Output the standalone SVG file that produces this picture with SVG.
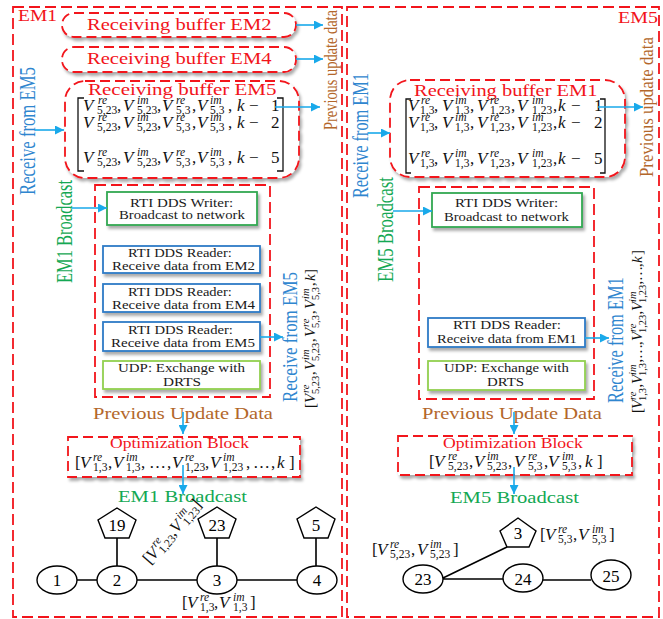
<svg xmlns="http://www.w3.org/2000/svg" width="663" height="619" viewBox="0 0 663 619">
<defs>
<style>
.t{font-family:"Liberation Serif","Times New Roman",serif}
.red{fill:#f2141b}
.brn{fill:#b3672b}
.blu{fill:#2f86cf}
.grn{fill:#14a853}
.bx{font-size:13px;fill:#1a1a1a}
.h{font-size:16.5px}
.ob{font-size:14.5px}
.frame{fill:none;stroke:#f2141b;stroke-width:1.8;stroke-dasharray:11 5}
.buf{fill:#fff;stroke:#f2141b;stroke-width:1.8;stroke-dasharray:10 5}
.wr{fill:#fff;stroke:#32a852;stroke-width:1.8}
.rd{fill:#fff;stroke:#2e7bc6;stroke-width:1.8}
.udp{fill:#fff;stroke:#92d050;stroke-width:1.8}
.arr{stroke:#19a9ea;stroke-width:1.6;fill:none;marker-end:url(#ah)}
.edge{stroke:#000;stroke-width:1.6;fill:none}
.node{fill:#fff;stroke:#000;stroke-width:1.4}
.num{font-family:"Liberation Serif","Times New Roman",serif;font-size:17px;fill:#000;text-anchor:middle}
.mt{font-family:"Liberation Serif","Times New Roman",serif;font-style:italic;font-size:17px;fill:#111}
.mt .sp{font-size:11.5px}
.mt .sb{font-size:11.5px;font-style:normal}
.mt .pc{font-style:normal}
.mv{font-size:15px}
.mv .sp,.mv .sb{font-size:10.5px}
.brk{fill:none;stroke:#111;stroke-width:1.3}
</style>
<filter id="sh" x="-5%" y="-10%" width="115%" height="140%">
<feDropShadow dx="2" dy="3" stdDeviation="1.6" flood-color="#000" flood-opacity="0.33"/>
</filter>
<marker id="ah" viewBox="0 0 10 10" refX="10" refY="5" markerWidth="10" markerHeight="9" markerUnits="userSpaceOnUse" orient="auto">
<path d="M0,0 L10,5 L0,10 z" fill="#19a9ea"/>
</marker>
</defs>

<!-- Left machine: EM1 -->
<g id="em1">
<rect class="frame" x="13" y="7" width="329" height="610"/>
<text class="t red h" transform="translate(18,21) scale(1.18,1)">EM1</text>
<text class="t blu" transform="translate(35,195) rotate(-90) scale(0.742,1)" font-size="22.5">Receive from EM5</text>
<text class="t brn" transform="translate(337,130) rotate(-90) scale(0.735,1)" font-size="19.6">Previous update data</text>
<text class="t grn" transform="translate(72,283) rotate(-90) scale(0.733,1)" font-size="22.5">EM1 Broadcast</text>
<text class="t blu" transform="translate(297,402) rotate(-90) scale(0.808,1)" font-size="21">Receive from EM5</text>
<text class="mt mv" transform="translate(315,408) rotate(-90)"><tspan class="pc" x="0" y="0">[</tspan><tspan x="5" y="0">V</tspan><tspan class="sp" x="15" y="-6.5">re</tspan><tspan class="sb" x="14" y="3.5">5,23</tspan><tspan class="pc" x="33" y="0">,</tspan><tspan x="38" y="0">V</tspan><tspan class="sp" x="48" y="-6.5">im</tspan><tspan class="sb" x="47" y="3.5">5,23</tspan><tspan class="pc" x="66" y="0">,</tspan><tspan x="71" y="0">V</tspan><tspan class="sp" x="81" y="-6.5">re</tspan><tspan class="sb" x="80" y="3.5">5,3</tspan><tspan class="pc" x="94" y="0">,</tspan><tspan x="99" y="0">V</tspan><tspan class="sp" x="109" y="-6.5">im</tspan><tspan class="sb" x="108" y="3.5">5,3</tspan><tspan class="pc" x="122" y="0">,</tspan><tspan x="127" y="0">k</tspan><tspan class="pc" x="134" y="0">]</tspan></text>
</g>

<g id="buf-em2">
<rect class="buf" x="62" y="13" width="234" height="24" rx="12" filter="url(#sh)"/>
<text class="t red h" transform="translate(87,30) scale(1.246,1)">Receiving buffer EM2</text>
</g>
<g id="buf-em4">
<rect class="buf" x="62" y="47" width="234" height="25" rx="12" filter="url(#sh)"/>
<text class="t red h" transform="translate(87,64) scale(1.246,1)">Receiving buffer EM4</text>
</g>
<g id="buf-em5">
<rect class="buf" x="65" y="81" width="234" height="97" rx="20" filter="url(#sh)"/>
<text class="t red h" transform="translate(88,95) scale(1.273,1)">Receiving buffer EM5</text>
<path class="brk" d="M84,98 H78 V171 H84 M277,98 H283 V171 H277"/>
<text class="mt"><tspan x="83" y="111">V</tspan><tspan class="sp" x="98" y="104">re</tspan><tspan class="sb" x="97" y="114">5,23</tspan><tspan class="pc" x="117" y="111">,</tspan><tspan x="123" y="111">V</tspan><tspan class="sp" x="137" y="104">im</tspan><tspan class="sb" x="137" y="114">5,23</tspan><tspan class="pc" x="157" y="111">,</tspan><tspan x="162" y="111">V</tspan><tspan class="sp" x="176" y="104">re</tspan><tspan class="sb" x="176" y="114">5,3</tspan><tspan class="pc" x="192" y="111">,</tspan><tspan x="197" y="111">V</tspan><tspan class="sp" x="210" y="104">im</tspan><tspan class="sb" x="210" y="114">5,3</tspan><tspan class="pc" x="228" y="111">,</tspan><tspan x="237" y="111">k</tspan><tspan class="pc" x="249" y="111">−</tspan><tspan class="pc" x="271" y="111">1</tspan></text>
<text class="mt"><tspan x="83" y="128">V</tspan><tspan class="sp" x="98" y="121">re</tspan><tspan class="sb" x="97" y="131">5,23</tspan><tspan class="pc" x="117" y="128">,</tspan><tspan x="123" y="128">V</tspan><tspan class="sp" x="137" y="121">im</tspan><tspan class="sb" x="137" y="131">5,23</tspan><tspan class="pc" x="157" y="128">,</tspan><tspan x="162" y="128">V</tspan><tspan class="sp" x="176" y="121">re</tspan><tspan class="sb" x="176" y="131">5,3</tspan><tspan class="pc" x="192" y="128">,</tspan><tspan x="197" y="128">V</tspan><tspan class="sp" x="210" y="121">im</tspan><tspan class="sb" x="210" y="131">5,3</tspan><tspan class="pc" x="228" y="128">,</tspan><tspan x="237" y="128">k</tspan><tspan class="pc" x="249" y="128">−</tspan><tspan class="pc" x="271" y="128">2</tspan></text>
<text class="mt"><tspan x="83" y="163">V</tspan><tspan class="sp" x="98" y="156">re</tspan><tspan class="sb" x="97" y="166">5,23</tspan><tspan class="pc" x="117" y="163">,</tspan><tspan x="123" y="163">V</tspan><tspan class="sp" x="137" y="156">im</tspan><tspan class="sb" x="137" y="166">5,23</tspan><tspan class="pc" x="157" y="163">,</tspan><tspan x="162" y="163">V</tspan><tspan class="sp" x="176" y="156">re</tspan><tspan class="sb" x="176" y="166">5,3</tspan><tspan class="pc" x="192" y="163">,</tspan><tspan x="197" y="163">V</tspan><tspan class="sp" x="210" y="156">im</tspan><tspan class="sb" x="210" y="166">5,3</tspan><tspan class="pc" x="228" y="163">,</tspan><tspan x="237" y="163">k</tspan><tspan class="pc" x="249" y="163">−</tspan><tspan class="pc" x="271" y="163">5</tspan></text>
</g>

<g id="dds-em1">
<rect class="frame" x="95" y="185" width="175" height="212"/>
</g>
<g id="writer-em1">
<rect class="wr" x="107" y="192" width="150" height="33" filter="url(#sh)"/>
<text class="t bx" transform="translate(130,207) scale(1.154,1)">RTI DDS Writer:</text>
<text class="t bx" transform="translate(119,219) scale(1.133,1)">Broadcast to network</text>
</g>
<g id="reader-em2">
<rect class="rd" x="103" y="246" width="157" height="27" filter="url(#sh)"/>
<text class="t bx" transform="translate(128,257) scale(1.118,1)">RTI DDS Reader:</text>
<text class="t bx" transform="translate(112,270) scale(1.148,1)">Receive data from EM2</text>
</g>
<g id="reader-em4">
<rect class="rd" x="103" y="284" width="157" height="28" filter="url(#sh)"/>
<text class="t bx" transform="translate(128,296) scale(1.118,1)">RTI DDS Reader:</text>
<text class="t bx" transform="translate(112,309) scale(1.148,1)">Receive data from EM4</text>
</g>
<g id="reader-em5">
<rect class="rd" x="103" y="322" width="157" height="29" filter="url(#sh)"/>
<text class="t bx" transform="translate(128,334) scale(1.128,1)">RTI DDS Reader:</text>
<text class="t bx" transform="translate(111,347) scale(1.156,1)">Receive data from EM5</text>
</g>
<g id="udp-em1">
<rect class="udp" x="103" y="361" width="157" height="28" filter="url(#sh)"/>
<text class="t bx" transform="translate(118,372) scale(1.149,1)">UDP: Exchange with</text>
<text class="t bx" transform="translate(163,386) scale(1.174,1)">DRTS</text>
</g>

<g id="opt-em1">
<text class="t brn h" transform="translate(93,419) scale(1.243,1)">Previous Update Data</text>
<rect class="buf" x="68" y="437" width="232" height="40" filter="url(#sh)"/>
<text class="t red ob" transform="translate(110,448) scale(1.211,1)">Optimization Block</text>
<text class="mt"><tspan class="pc" x="75" y="468">[</tspan><tspan x="80" y="468">V</tspan><tspan class="sp" x="93" y="461">re</tspan><tspan class="sb" x="93" y="471">1,3</tspan><tspan class="pc" x="108" y="468">,</tspan><tspan x="113" y="468">V</tspan><tspan class="sp" x="126" y="461">im</tspan><tspan class="sb" x="126" y="471">1,3</tspan><tspan class="pc" x="141" y="468">,</tspan><tspan class="pc" x="149" y="468">…</tspan><tspan class="pc" x="167" y="468">,</tspan><tspan x="172" y="468">V</tspan><tspan class="sp" x="185" y="461">re</tspan><tspan class="sb" x="185" y="471">1,23</tspan><tspan class="pc" x="205" y="468">,</tspan><tspan x="210" y="468">V</tspan><tspan class="sp" x="223" y="461">im</tspan><tspan class="sb" x="223" y="471">1,23</tspan><tspan class="pc" x="246" y="468">,</tspan><tspan class="pc" x="253" y="468">…</tspan><tspan class="pc" x="271" y="468">,</tspan><tspan x="277" y="468">k</tspan><tspan class="pc" x="289" y="468">]</tspan></text>
<text class="t grn h" transform="translate(118,502) scale(1.251,1)">EM1 Broadcast</text>
</g>

<!-- EM1 grid section -->
<g id="bus-19"><polygon class="node" points="117,508 136,520 129,538 105,538 98,520"/><text class="num" x="117" y="531">19</text></g>
<g id="bus-23"><polygon class="node" points="217,507 236,519 229,538 205,538 198,519"/><text class="num" x="217" y="531">23</text></g>
<g id="bus-5"><polygon class="node" points="316,507 335,519 328,538 304,538 297,519"/><text class="num" x="316" y="531">5</text></g>
<g id="bus-1"><ellipse class="node" cx="57" cy="580" rx="20" ry="14"/><text class="num" x="57" y="586">1</text></g>
<g id="bus-2"><ellipse class="node" cx="117" cy="580" rx="20" ry="14"/><text class="num" x="117" y="586">2</text></g>
<g id="bus-3"><ellipse class="node" cx="217" cy="580" rx="20" ry="14"/><text class="num" x="217" y="586">3</text></g>
<g id="bus-4"><ellipse class="node" cx="317" cy="580" rx="20" ry="14"/><text class="num" x="317" y="586">4</text></g>
<g id="lbl-em1">
<text class="mt" transform="translate(150,565) rotate(-49)"><tspan class="pc" x="0" y="0">[</tspan><tspan x="5" y="0">V</tspan><tspan class="sp" x="17" y="-7">re</tspan><tspan class="sb" x="17" y="3">1,23</tspan><tspan class="pc" x="37" y="0">,</tspan><tspan x="41" y="0">V</tspan><tspan class="sp" x="54" y="-7">im</tspan><tspan class="sb" x="54" y="3">1,23</tspan><tspan class="pc" x="74" y="0">]</tspan></text>
<text class="mt"><tspan class="pc" x="182" y="608">[</tspan><tspan x="187" y="608">V</tspan><tspan class="sp" x="200" y="601">re</tspan><tspan class="sb" x="200" y="611">1,3</tspan><tspan class="pc" x="214" y="608">,</tspan><tspan x="219" y="608">V</tspan><tspan class="sp" x="233" y="601">im</tspan><tspan class="sb" x="233" y="611">1,3</tspan><tspan class="pc" x="250" y="608">]</tspan></text>
</g>

<!-- Right machine: EM5 -->
<g id="em5">
<rect class="frame" x="347" y="7" width="312" height="610"/>
<text class="t red h" transform="translate(618,23) scale(1.21,1)">EM5</text>
<text class="t blu" transform="translate(368,198) rotate(-90) scale(0.725,1)" font-size="22.5">Receive from EM1</text>
<text class="t brn" transform="translate(653,177) rotate(-90) scale(0.857,1)" font-size="19.6">Previous update data</text>
<text class="t grn" transform="translate(393,282) rotate(-90) scale(0.747,1)" font-size="22.5">EM5 Broadcast</text>
<text class="t blu" transform="translate(623,403) rotate(-90) scale(0.73,1)" font-size="22.5">Receive from EM1</text>
<text class="mt mv" transform="translate(642,413) rotate(-90)"><tspan class="pc" x="0" y="0">[</tspan><tspan x="4" y="0">V</tspan><tspan class="sp" x="13" y="-6.5">re</tspan><tspan class="sb" x="12" y="3.5">1,3</tspan><tspan class="pc" x="25.5" y="0">,</tspan><tspan x="29" y="0">V</tspan><tspan class="sp" x="38" y="-6.5">im</tspan><tspan class="sb" x="37" y="3.5">1,3</tspan><tspan class="pc" x="50.5" y="0">,</tspan><tspan class="pc" x="54" y="0">…</tspan><tspan class="pc" x="68" y="0">,</tspan><tspan x="72" y="0">V</tspan><tspan class="sp" x="81" y="-6.5">re</tspan><tspan class="sb" x="80" y="3.5">1,23</tspan><tspan class="pc" x="98.5" y="0">,</tspan><tspan x="102" y="0">V</tspan><tspan class="sp" x="111" y="-6.5">im</tspan><tspan class="sb" x="110" y="3.5">1,23</tspan><tspan class="pc" x="128.5" y="0">,</tspan><tspan class="pc" x="132" y="0">…</tspan><tspan class="pc" x="146" y="0">,</tspan><tspan x="150" y="0">k</tspan><tspan class="pc" x="158" y="0">]</tspan></text>
</g>

<g id="buf-em1">
<rect class="buf" x="390" y="80" width="235" height="97" rx="20" filter="url(#sh)"/>
<text class="t red h" transform="translate(414,96) scale(1.239,1)">Receiving buffer EM1</text>
<path class="brk" d="M411,99 H406 V173 H411 M600,99 H605 V173 H600"/>
<text class="mt"><tspan x="408" y="111">V</tspan><tspan class="sp" x="421" y="104">re</tspan><tspan class="sb" x="420" y="114">1,3</tspan><tspan class="pc" x="434" y="111">,</tspan><tspan x="442" y="111">V</tspan><tspan class="sp" x="455" y="104">im</tspan><tspan class="sb" x="455" y="114">1,3</tspan><tspan class="pc" x="470" y="111">,</tspan><tspan x="477" y="111">V</tspan><tspan class="sp" x="490" y="104">re</tspan><tspan class="sb" x="490" y="114">1,23</tspan><tspan class="pc" x="511" y="111">,</tspan><tspan x="517" y="111">V</tspan><tspan class="sp" x="532" y="104">im</tspan><tspan class="sb" x="532" y="114">1,23</tspan><tspan class="pc" x="553" y="111">,</tspan><tspan x="558" y="111">k</tspan><tspan class="pc" x="571" y="111">−</tspan><tspan class="pc" x="594" y="111">1</tspan></text>
<text class="mt"><tspan x="408" y="128">V</tspan><tspan class="sp" x="421" y="121">re</tspan><tspan class="sb" x="420" y="131">1,3</tspan><tspan class="pc" x="434" y="128">,</tspan><tspan x="442" y="128">V</tspan><tspan class="sp" x="455" y="121">im</tspan><tspan class="sb" x="455" y="131">1,3</tspan><tspan class="pc" x="470" y="128">,</tspan><tspan x="477" y="128">V</tspan><tspan class="sp" x="490" y="121">re</tspan><tspan class="sb" x="490" y="131">1,23</tspan><tspan class="pc" x="511" y="128">,</tspan><tspan x="517" y="128">V</tspan><tspan class="sp" x="532" y="121">im</tspan><tspan class="sb" x="532" y="131">1,23</tspan><tspan class="pc" x="553" y="128">,</tspan><tspan x="558" y="128">k</tspan><tspan class="pc" x="571" y="128">−</tspan><tspan class="pc" x="594" y="128">2</tspan></text>
<text class="mt"><tspan x="408" y="164">V</tspan><tspan class="sp" x="421" y="157">re</tspan><tspan class="sb" x="420" y="167">1,3</tspan><tspan class="pc" x="434" y="164">,</tspan><tspan x="442" y="164">V</tspan><tspan class="sp" x="455" y="157">im</tspan><tspan class="sb" x="455" y="167">1,3</tspan><tspan class="pc" x="470" y="164">,</tspan><tspan x="477" y="164">V</tspan><tspan class="sp" x="490" y="157">re</tspan><tspan class="sb" x="490" y="167">1,23</tspan><tspan class="pc" x="511" y="164">,</tspan><tspan x="517" y="164">V</tspan><tspan class="sp" x="532" y="157">im</tspan><tspan class="sb" x="532" y="167">1,23</tspan><tspan class="pc" x="553" y="164">,</tspan><tspan x="558" y="164">k</tspan><tspan class="pc" x="571" y="164">−</tspan><tspan class="pc" x="594" y="164">5</tspan></text>
</g>

<g id="dds-em5">
<rect class="frame" x="419" y="187" width="175" height="212"/>
</g>
<g id="writer-em5">
<rect class="wr" x="432" y="193" width="150" height="34" filter="url(#sh)"/>
<text class="t bx" transform="translate(455,207) scale(1.154,1)">RTI DDS Writer:</text>
<text class="t bx" transform="translate(444,221) scale(1.124,1)">Broadcast to network</text>
</g>
<g id="reader-em1">
<rect class="rd" x="428" y="318" width="157" height="29" filter="url(#sh)"/>
<text class="t bx" transform="translate(453,329) scale(1.161,1)">RTI DDS Reader:</text>
<text class="t bx" transform="translate(437,343) scale(1.124,1)">Receive data from EM1</text>
</g>
<g id="udp-em5">
<rect class="udp" x="428" y="361" width="157" height="29" filter="url(#sh)"/>
<text class="t bx" transform="translate(444,372) scale(1.131,1)">UDP: Exchange with</text>
<text class="t bx" transform="translate(487,386) scale(1.144,1)">DRTS</text>
</g>

<g id="opt-em5">
<text class="t brn h" transform="translate(422,419) scale(1.243,1)">Previous Update Data</text>
<rect class="buf" x="398" y="436" width="234" height="39" filter="url(#sh)"/>
<text class="t red ob" transform="translate(443,448) scale(1.22,1)">Optimization Block</text>
<text class="mt"><tspan class="pc" x="429" y="467">[</tspan><tspan x="434" y="467">V</tspan><tspan class="sp" x="448" y="460">re</tspan><tspan class="sb" x="448" y="470">5,23</tspan><tspan class="pc" x="469" y="467">,</tspan><tspan x="474" y="467">V</tspan><tspan class="sp" x="487" y="460">im</tspan><tspan class="sb" x="487" y="470">5,23</tspan><tspan class="pc" x="508" y="467">,</tspan><tspan x="514" y="467">V</tspan><tspan class="sp" x="528" y="460">re</tspan><tspan class="sb" x="528" y="470">5,3</tspan><tspan class="pc" x="544" y="467">,</tspan><tspan x="548" y="467">V</tspan><tspan class="sp" x="562" y="460">im</tspan><tspan class="sb" x="562" y="470">5,3</tspan><tspan class="pc" x="578" y="467">,</tspan><tspan x="585" y="467">k</tspan><tspan class="pc" x="597" y="467">]</tspan></text>
<text class="t grn h" transform="translate(450,503) scale(1.251,1)">EM5 Broadcast</text>
</g>

<!-- EM5 grid section -->
<g id="bus-3b"><polygon class="node" points="518,518 536,531 529,547 507,547 500,531"/><text class="num" x="518" y="539">3</text></g>
<g id="bus-23b"><ellipse class="node" cx="423" cy="579" rx="20" ry="14"/><text class="num" x="423" y="585">23</text></g>
<g id="bus-24"><ellipse class="node" cx="523" cy="578" rx="20" ry="14"/><text class="num" x="523" y="585">24</text></g>
<g id="bus-25"><ellipse class="node" cx="611" cy="575" rx="20" ry="15"/><text class="num" x="611" y="582">25</text></g>
<g id="lbl-em5">
<text class="mt"><tspan class="pc" x="372" y="555">[</tspan><tspan x="377" y="555">V</tspan><tspan class="sp" x="390" y="548">re</tspan><tspan class="sb" x="390" y="558">5,23</tspan><tspan class="pc" x="411" y="555">,</tspan><tspan x="417" y="555">V</tspan><tspan class="sp" x="430" y="548">im</tspan><tspan class="sb" x="430" y="558">5,23</tspan><tspan class="pc" x="453" y="555">]</tspan></text>
<text class="mt"><tspan class="pc" x="540" y="540">[</tspan><tspan x="545" y="540">V</tspan><tspan class="sp" x="558" y="533">re</tspan><tspan class="sb" x="558" y="543">5,3</tspan><tspan class="pc" x="573" y="540">,</tspan><tspan x="578" y="540">V</tspan><tspan class="sp" x="592" y="533">im</tspan><tspan class="sb" x="592" y="543">5,3</tspan><tspan class="pc" x="609" y="540">]</tspan></text>
</g>

<!-- Connectors: data-flow arrows and grid lines -->
<g id="connectors">
<line class="arr" x1="296" y1="25" x2="323" y2="25"/>
<line class="arr" x1="296" y1="59" x2="323" y2="59"/>
<line class="arr" x1="275" y1="107" x2="320" y2="107"/>
<line class="arr" x1="35" y1="130" x2="64" y2="130"/>
<line class="arr" x1="72" y1="208" x2="107" y2="208"/>
<line class="arr" x1="260" y1="337" x2="283" y2="337"/>
<line class="arr" x1="183" y1="412" x2="183" y2="434"/>
<line class="arr" x1="183" y1="465" x2="183" y2="494"/>
<line class="arr" x1="598" y1="107" x2="643" y2="107"/>
<line class="arr" x1="368" y1="133" x2="390" y2="133"/>
<line class="arr" x1="393" y1="211" x2="432" y2="211"/>
<line class="arr" x1="585" y1="338" x2="609" y2="338"/>
<line class="arr" x1="514" y1="412" x2="514" y2="434"/>
<line class="arr" x1="514" y1="467" x2="514" y2="494"/>
<path class="edge" d="M77,580 H97 M137,580 H197 M237,580 H297 M117,538 V566 M217,538 V566 M316,538 V566"/>
<path class="edge" d="M443,579 H503 M543,580 H591 M443,578 L507,547"/>
</g>
</svg>
